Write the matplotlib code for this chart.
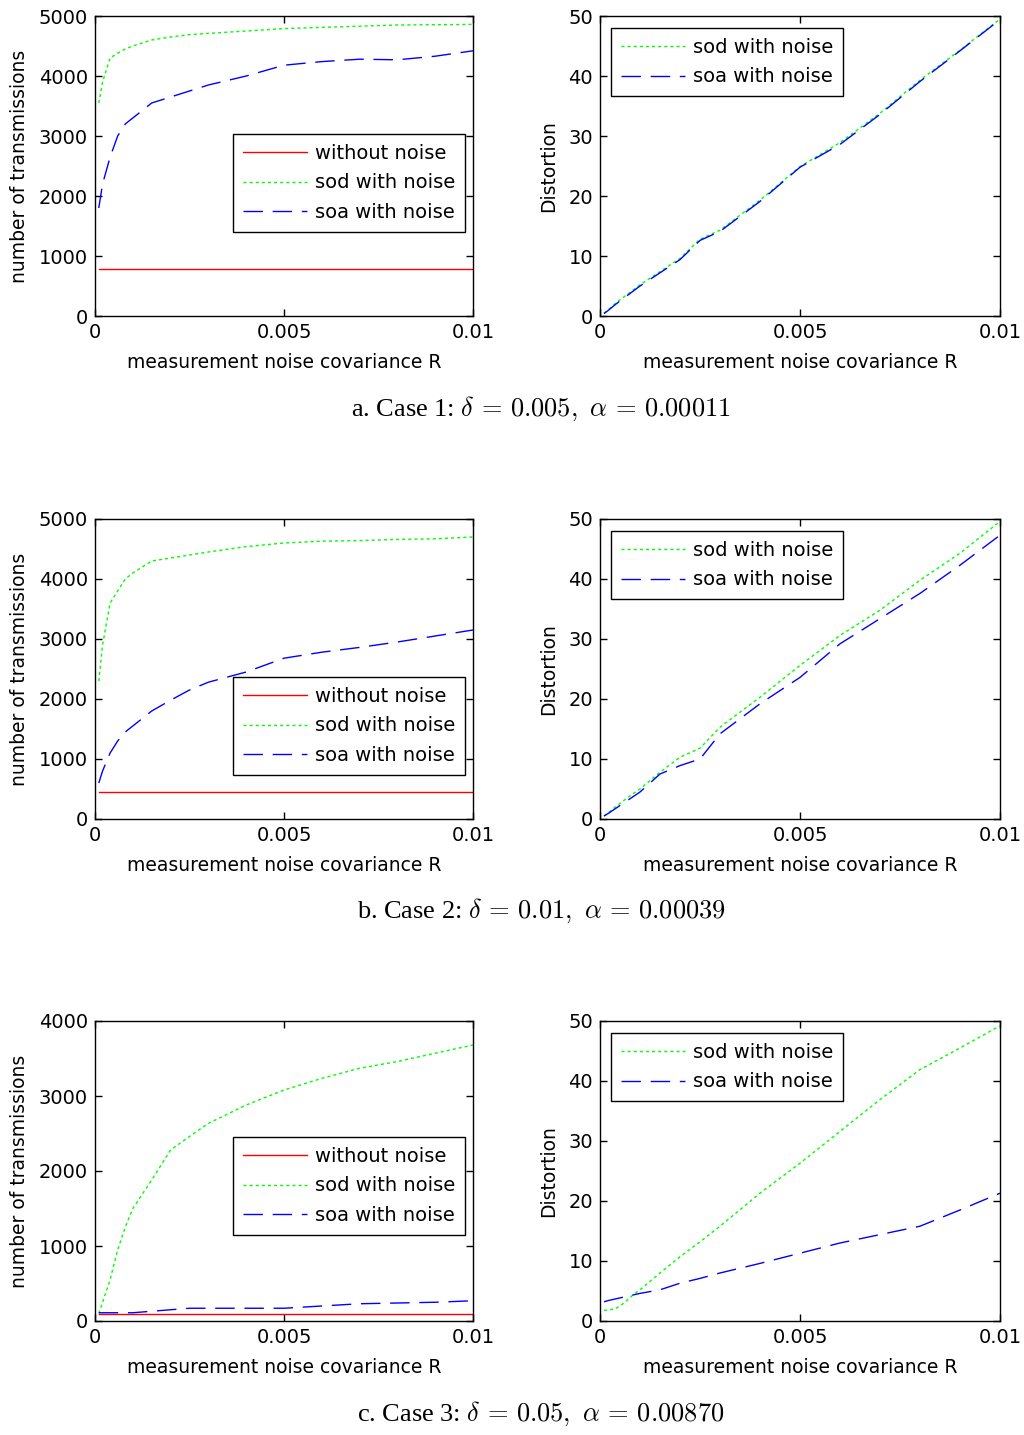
import matplotlib
matplotlib.use("Agg")
import matplotlib.pyplot as plt

plt.rcParams['font.family'] = ['DejaVu Sans']
plt.rcParams['mathtext.fontset'] = 'cm'

# ---------------- data ----------------
R = [0.0001, 0.0002, 0.0004, 0.0006, 0.0008, 0.001, 0.0015, 0.002, 0.0025,
     0.003, 0.004, 0.005, 0.006, 0.007, 0.008, 0.009, 0.01]

# Case 1
c1_without = [780] * len(R)
c1_sod_tx = [3550, 3900, 4300, 4380, 4450, 4500, 4600, 4650, 4690,
             4710, 4750, 4790, 4810, 4830, 4850, 4855, 4860]
c1_soa_tx = [1800, 2200, 2650, 3000, 3200, 3300, 3550, 3650, 3750,
             3850, 4000, 4180, 4240, 4280, 4270, 4330, 4420]
c1_sod_d = [0.5, 1.0, 2.2, 3.2, 4.2, 5.2, 7.4, 9.6, 12.8,
            14.3, 19.3, 24.9, 28.9, 33.8, 39.3, 44.3, 49.5]
c1_soa_d = [0.4, 0.9, 2.0, 3.0, 4.0, 5.0, 7.2, 9.4, 12.6,
            14.1, 19.1, 24.8, 28.6, 33.6, 39.1, 44.2, 49.4]

# Case 2
c2_without = [450] * len(R)
c2_sod_tx = [2300, 2900, 3600, 3800, 4000, 4100, 4300, 4350, 4400,
             4450, 4540, 4600, 4630, 4640, 4660, 4670, 4700]
c2_soa_tx = [600, 800, 1100, 1300, 1450, 1550, 1800, 1980, 2150,
             2280, 2450, 2680, 2780, 2860, 2950, 3050, 3150]
c2_sod_d = [0.5, 1.0, 2.1, 3.1, 4.1, 5.0, 7.8, 10.3, 11.8,
            15.3, 20.3, 25.6, 30.6, 34.8, 39.8, 44.3, 49.6]
c2_soa_d = [0.5, 0.9, 1.8, 2.7, 3.6, 4.5, 7.5, 8.9, 10.0,
            14.2, 19.2, 23.6, 29.2, 33.4, 37.6, 42.3, 47.3]

# Case 3
c3_without = [100] * len(R)
c3_sod_tx = [100, 250, 550, 950, 1250, 1500, 1880, 2280, 2460,
             2635, 2880, 3080, 3235, 3370, 3460, 3570, 3680]
c3_soa_tx = [110, 110, 110, 110, 110, 110, 130, 150, 170,
             170, 170, 170, 200, 230, 240, 250, 270]
c3_sod_d = [1.8, 1.8, 2.1, 3.0, 4.2, 5.2, 8.0, 10.7, 13.2,
            15.8, 21.3, 26.3, 31.6, 36.9, 41.9, 45.5, 49.2]
c3_soa_d = [3.2, 3.4, 3.7, 4.0, 4.3, 4.6, 5.2, 6.3, 7.1,
            8.0, 9.6, 11.3, 13.0, 14.4, 15.8, 18.5, 21.3]

x_ticks = [0, 0.005, 0.01]
x_ticklabels = ['0', '0.005', '0.01']
tx_ticks_5000 = [0, 1000, 2000, 3000, 4000, 5000]
tx_ticks_4000 = [0, 1000, 2000, 3000, 4000]
d_ticks = [0, 10, 20, 30, 40, 50]

captions = [r"a. Case 1: $\delta\,=\,0.005,\ \alpha\,=\,0.00011$",
            r"b. Case 2: $\delta\,=\,0.01,\ \alpha\,=\,0.00039$",
            r"c. Case 3: $\delta\,=\,0.05,\ \alpha\,=\,0.00870$"]

labels = ['without noise', 'sod with noise', 'soa with noise']

# ---------------- figure ----------------
W, H = 1024, 1435
fig = plt.figure(figsize=(W / 100, H / 100), dpi=100)

FS = 14
LFS = 13.5
RED, GREEN, BLUE = '#ff0000', '#00ff00', '#0000ff'
SOD_DASH = (2.2, 2.2)
SOA_DASH = (14, 7)

row_tops = [16, 519, 1021]
ax_h = 300
caption_y = [409, 911, 1414]
left_leg_top = [134, 677, 1137]

LEG_KW = dict(fontsize=FS, handlelength=3.3, handletextpad=0.4,
              borderpad=0.5, labelspacing=0.55, fancybox=False,
              framealpha=1, edgecolor='black', borderaxespad=0)


def style_axes(ax, yticks, ymax):
    ax.set_xlim(0, 0.01)
    ax.set_ylim(0, ymax)
    ax.set_xticks(x_ticks)
    ax.set_xticklabels(x_ticklabels)
    ax.set_yticks(yticks)
    ax.tick_params(direction='in', top=True, right=True, labelsize=FS,
                   length=5, width=1, pad=5)
    for s in ax.spines.values():
        s.set_linewidth(1.0)
        s.set_color('black')
    ax.set_xlabel('measurement noise covariance R', fontsize=LFS, labelpad=8)


tx_data = [(c1_without, c1_sod_tx, c1_soa_tx, 5000, tx_ticks_5000),
           (c2_without, c2_sod_tx, c2_soa_tx, 5000, tx_ticks_5000),
           (c3_without, c3_sod_tx, c3_soa_tx, 4000, tx_ticks_4000)]
d_data = [(c1_sod_d, c1_soa_d), (c2_sod_d, c2_soa_d), (c3_sod_d, c3_soa_d)]

for i in range(3):
    top = row_tops[i]
    bottom = (H - (top + ax_h)) / H
    h = ax_h / H
    # left panel
    axl = fig.add_axes([95 / W, bottom, 378 / W, h])
    wo, sod, soa, ymax, yt = tx_data[i]
    axl.plot(R, wo, color=RED, lw=1.0, label=labels[0])
    axl.plot(R, sod, color=GREEN, lw=1.0, dashes=SOD_DASH, label=labels[1])
    axl.plot(R, soa, color=BLUE, lw=1.0, dashes=SOA_DASH, label=labels[2])
    style_axes(axl, yt, ymax)
    axl.set_ylabel('number of transmissions', fontsize=LFS, labelpad=7)
    leg_top = (top + ax_h - left_leg_top[i]) / ax_h
    lg = axl.legend(loc='upper right', bbox_to_anchor=((465 - 95) / 378, leg_top),
                    **LEG_KW)
    lg.get_frame().set_linewidth(1.0)

    # right panel
    axr = fig.add_axes([600 / W, bottom, 400 / W, h])
    sd, sa = d_data[i]
    axr.plot(R, sd, color=GREEN, lw=1.0, dashes=SOD_DASH, label=labels[1])
    axr.plot(R, sa, color=BLUE, lw=1.0, dashes=SOA_DASH, label=labels[2])
    style_axes(axr, d_ticks, 50)
    axr.set_ylabel('Distortion', fontsize=LFS, labelpad=7)
    lg2 = axr.legend(loc='upper left', bbox_to_anchor=(11 / 400, 1 - 12 / 300),
                     **LEG_KW)
    lg2.get_frame().set_linewidth(1.0)

    fig.text(541 / W, 1 - caption_y[i] / H, captions[i], ha='center', va='center',
             fontsize=19, family=['Liberation Serif', 'DejaVu Serif'])

fig.savefig('out.png', dpi=100)
